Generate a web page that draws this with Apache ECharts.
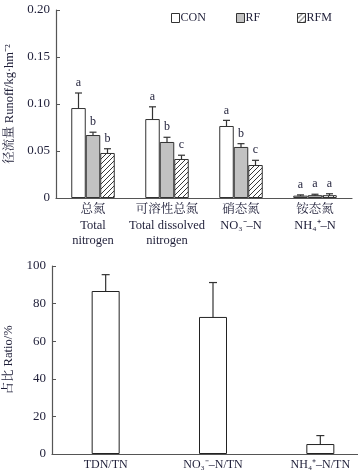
<!DOCTYPE html>
<html><head><meta charset="utf-8">
<script src="https://cdn.jsdelivr.net/npm/echarts@6/dist/echarts.min.js"></script>
<style>html,body{margin:0;padding:0;background:#fff}#c{width:358px;height:473px}</style>
</head><body><div id="c"></div>
<script>
// ---- data ----
const categories = ['总氮\nTotal\nnitrogen', '可溶性总氮\nTotal dissolved\nnitrogen', '硝态氮\nNO₃⁻–N', '铵态氮\nNH₄⁺–N'];
const seriesNames = ['CON', 'RF', 'RFM'];
const conValues = [0.0957, 0.084, 0.0766, 0.0025];
const rfValues = [0.067, 0.0596, 0.0543, 0.003];
const rfmValues = [0.0479, 0.0415, 0.0351, 0.003];
const conErr = [0.016, 0.013, 0.006, 0.0008];
const rfErr = [0.003, 0.005, 0.0035, 0.001];
const rfmErr = [0.0045, 0.004, 0.005, 0.0015];
const conLetters = ['a', 'a', 'a', 'a'];
const rfLetters = ['b', 'b', 'b', 'a'];
const rfmLetters = ['b', 'c', 'c', 'a'];
const topTicks = [0, 0.05, 0.10, 0.15, 0.20];

const ratioCategories = ['TDN/TN', 'NO₃⁻–N/TN', 'NH₄⁺–N/TN'];
const ratioValues = [86.7, 72.9, 5.3];
const ratioErr = [8.7, 18.3, 4.5];
const bottomTicks = [0, 20, 40, 60, 80, 100];

// ---- chart ----
const chart = echarts.init(document.getElementById('c'), null, {renderer: 'canvas'});
const FONT = '"Liberation Serif", "Noto Serif CJK SC", "Noto Sans CJK SC", serif';
const TXT = '#1e1e38';
const AX = '#555';

function hatch() {
  const c = document.createElement('canvas');
  c.width = 5; c.height = 5;
  const g = c.getContext('2d');
  g.fillStyle = '#fff'; g.fillRect(0, 0, 5, 5);
  g.strokeStyle = '#222'; g.lineWidth = 0.9;
  g.beginPath();
  g.moveTo(-1, 6); g.lineTo(6, -1);
  g.moveTo(-1, 1); g.lineTo(1, -1);
  g.moveTo(4, 6); g.lineTo(6, 4);
  g.stroke();
  return c;
}

const BW = 14.5;
const fills = ['#ffffff', '#c2c2c2', {image: hatch(), repeat: 'repeat'}];
const vals = [conValues, rfValues, rfmValues];
const errs = [conErr, rfErr, rfmErr];
const letters = [conLetters, rfLetters, rfmLetters];

const series = [];
seriesNames.forEach((n, i) => {
  series.push({
    name: n, type: 'bar', xAxisIndex: 0, yAxisIndex: 0,
    data: vals[i], barWidth: BW, barGap: '0%',
    itemStyle: {color: fills[i], borderColor: '#333', borderWidth: 1},
    silent: true, animation: false
  });
});
seriesNames.forEach((n, i) => {
  series.push({
    type: 'custom', xAxisIndex: 0, yAxisIndex: 0, animation: false, silent: true,
    data: vals[i].map((v, k) => [k, v, errs[i][k], letters[i][k]]),
    renderItem: function (params, api) {
      const k = api.value(0), v = api.value(1), e = api.value(2);
      const off = (i - 1) * BW;
      const pc = api.coord([k, v]);
      const x = pc[0] + off;
      const yt = api.coord([k, v + e])[1];
      const yb = api.coord([k, v - e])[1];
      const cw = 3.5;
      const st = {stroke: '#333', lineWidth: 1.2};
      return {type: 'group', children: [
        {type: 'line', shape: {x1: x, y1: yt, x2: x, y2: yb}, style: st},
        {type: 'line', shape: {x1: x - cw, y1: yt, x2: x + cw, y2: yt}, style: st},
        {type: 'line', shape: {x1: x - cw, y1: yb, x2: x + cw, y2: yb}, style: st},
        {type: 'text', x: x, y: yt - 4, style: {text: letters[i][k], fill: TXT, font: '12px ' + FONT, align: 'center', verticalAlign: 'bottom'}}
      ]};
    }
  });
});
series.push({
  type: 'bar', xAxisIndex: 1, yAxisIndex: 1, data: ratioValues, barWidth: 28,
  itemStyle: {color: '#fff', borderColor: '#222', borderWidth: 1}, silent: true, animation: false
});
series.push({
  type: 'custom', xAxisIndex: 1, yAxisIndex: 1, animation: false, silent: true,
  data: ratioValues.map((v, k) => [k, v, ratioErr[k]]),
  renderItem: function (params, api) {
    const k = api.value(0), v = api.value(1), e = api.value(2);
    const x = api.coord([k, v])[0];
    const yt = api.coord([k, v + e])[1];
    const yb = api.coord([k, Math.max(0, v - e)])[1];
    const cw = 4;
    const st = {stroke: '#333', lineWidth: 1.2};
    return {type: 'group', children: [
      {type: 'line', shape: {x1: x, y1: yt, x2: x, y2: yb}, style: st},
      {type: 'line', shape: {x1: x - cw, y1: yt, x2: x + cw, y2: yt}, style: st},
      {type: 'line', shape: {x1: x - cw, y1: yb, x2: x + cw, y2: yb}, style: st}
    ]};
  }
});

function legend(name, left) {
  return {
    data: [name], left: left, top: 12, itemWidth: 8, itemHeight: 9, padding: 0,
    selectedMode: false, icon: 'rect',
    itemStyle: {borderColor: '#333', borderWidth: 1},
    textStyle: {fontFamily: FONT, fontSize: 12, color: TXT, padding: [0, 0, 0, -4]}
  };
}

chart.setOption({
  animation: false,
  backgroundColor: '#fff',
  legend: [legend('CON', 171), legend('RF', 236), legend('RFM', 297)],
  grid: [
    {left: 56, top: 10, width: 296, height: 188, outerBoundsMode: 'none', containLabel: false},
    {left: 52, top: 266, width: 322, height: 188, outerBoundsMode: 'none', containLabel: false}
  ],
  xAxis: [
    {type: 'category', gridIndex: 0, data: categories,
     axisLine: {lineStyle: {color: AX, width: 1.2}}, axisTick: {show: false},
     axisLabel: {fontFamily: FONT, fontSize: 12.5, color: TXT, lineHeight: 15.5, margin: 4, interval: 0}},
    {type: 'category', gridIndex: 1, data: ratioCategories,
     axisLine: {lineStyle: {color: AX, width: 1.2}}, axisTick: {show: false},
     axisLabel: {fontFamily: FONT, fontSize: 12, color: TXT, margin: 5, interval: 0}}
  ],
  yAxis: [
    {type: 'value', gridIndex: 0, min: topTicks[0], max: topTicks[topTicks.length - 1], interval: 0.05,
     name: '径流量 Runoff/kg·hm⁻²', nameLocation: 'middle', nameGap: 40,
     nameTextStyle: {fontFamily: FONT, fontSize: 12.5, color: TXT},
     axisLine: {show: true, lineStyle: {color: AX, width: 1.2}},
     axisTick: {show: true, inside: true, length: 4, lineStyle: {color: AX}},
     splitLine: {show: false},
     axisLabel: {fontFamily: FONT, fontSize: 13, color: TXT, margin: 6,
       formatter: v => v === 0 ? '0' : v.toFixed(2)}},
    {type: 'value', gridIndex: 1, min: bottomTicks[0], max: bottomTicks[bottomTicks.length - 1], interval: 20,
     name: '占比 Ratio/%', nameLocation: 'middle', nameGap: 37,
     nameTextStyle: {fontFamily: FONT, fontSize: 12.5, color: TXT},
     axisLine: {show: true, lineStyle: {color: AX, width: 1.2}},
     axisTick: {show: true, inside: true, length: 4, lineStyle: {color: AX}},
     splitLine: {show: false},
     axisLabel: {fontFamily: FONT, fontSize: 13, color: TXT, margin: 6}}
  ],
  series: series
});
</script>
</body></html>
